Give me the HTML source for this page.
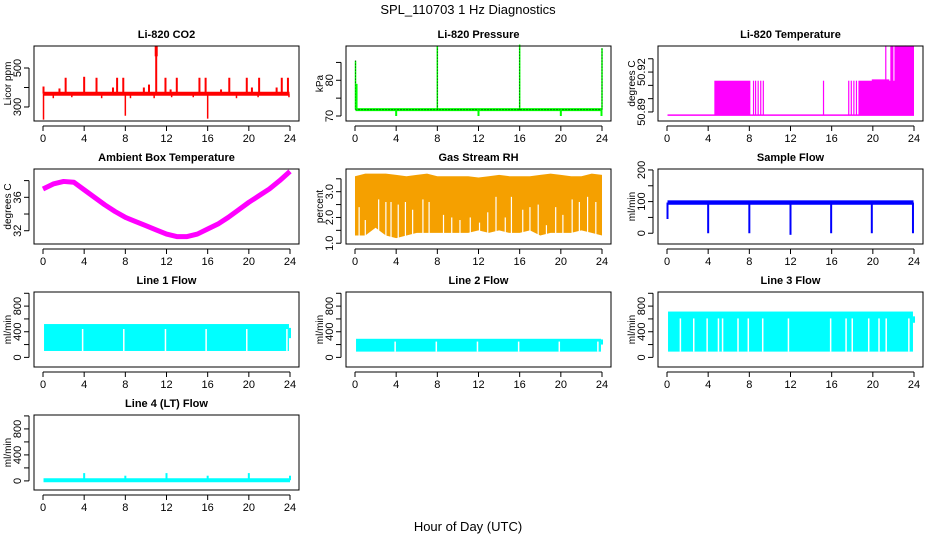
<!DOCTYPE html>
<html><head><meta charset="utf-8"><title>SPL_110703 1 Hz Diagnostics</title>
<style>
html,body{margin:0;padding:0;background:#fff;}
svg{display:block;font-family:"Liberation Sans",Arial,sans-serif;}
</style></head>
<body>
<svg id="chart" width="936" height="540" viewBox="0 0 936 540" xmlns="http://www.w3.org/2000/svg">
<text x="468" y="14" font-size="13" text-anchor="middle">SPL_110703  1 Hz Diagnostics</text>
<text x="468" y="531" font-size="13" text-anchor="middle">Hour of Day (UTC)</text>
</svg>
<script>
// ---- data ----
const xTicks = [0,4,8,12,16,20,24];
// CO2
const co2Base = 368;
const co2SpikeHours = [0.05,1.6,2.2,4.0,5.2,6.8,7.2,7.8,9.8,10.3,11.0,11.9,12.4,13.0,15.2,15.8,17.3,18.1,19.8,20.3,21.0,22.7,23.2,23.8];
const co2SpikeValues = [405,395,450,455,450,400,450,450,400,415,615,450,390,450,450,450,390,450,450,400,450,400,450,450];
const co2DipHours = [0.05,1.0,2.8,5.7,8.0,8.5,10.8,12.5,14.6,16.0,18.8,20.9,23.9];
const co2DipValues = [235,345,350,345,255,345,345,350,350,240,345,350,350];
// Pressure
const presBase = 71.8;
const presSpikeHours = [0.05,8.0,16.0,24.0];
const presSpikeValues = [85.5,89.5,90.0,89.0];
const presDipHours = [4.0,12.0,20.0,23.95];
const presDipValues = [70.0,70.0,70.0,70.0];
// Li-820 temperature blocks
const tempBase = 50.8876;
const tempBlockStart = [4.6,8.35,8.55,8.8,9.05,9.3,15.15,17.6,17.85,18.1,18.35,18.6,19.9,21.2,21.7,22.1,23.1];
const tempBlockEnd   = [8.1,8.4,8.6,8.85,9.1,9.35,15.2,17.65,17.95,18.2,18.45,24.0,21.6,21.25,22.0,24.0,23.15];
const tempBlockLevel = [50.9135,50.9135,50.9135,50.9135,50.9135,50.9135,50.9135,50.9135,50.9135,50.9135,50.9135,50.9135,50.9145,50.940,50.940,50.940,50.940];
// Ambient box temperature (hourly)
const ambHours = [0,1,2,3,4,5,6,7,8,9,10,11,12,13,14,15,16,17,18,19,20,21,22,23,24];
const ambValues = [37.0,37.6,37.9,37.8,36.9,36.0,35.1,34.3,33.6,33.1,32.6,32.1,31.6,31.3,31.3,31.6,32.2,32.8,33.6,34.5,35.4,36.2,37.0,38.0,39.1];
// Gas stream RH (hourly envelope)
const rhHours = [0,1,2,3,4,5,6,7,8,9,10,11,12,13,14,15,16,17,18,19,20,21,22,23,24];
const rhTop = [3.6,3.7,3.7,3.7,3.65,3.6,3.65,3.7,3.6,3.6,3.6,3.6,3.55,3.6,3.65,3.6,3.6,3.6,3.65,3.7,3.65,3.6,3.6,3.7,3.65];
const rhBottom = [1.3,1.3,1.6,1.3,1.2,1.3,1.4,1.4,1.4,1.4,1.4,1.4,1.5,1.4,1.5,1.4,1.4,1.5,1.3,1.4,1.4,1.4,1.5,1.4,1.3];
const rhGapHours = [0.4,1.0,2.3,3.0,3.5,4.2,4.9,5.6,6.6,7.2,8.6,9.4,10.2,11.2,12.1,12.9,13.7,14.6,15.2,16.3,17.0,17.8,18.6,19.5,20.2,21.1,21.8,22.6,23.4];
const rhGapTops = [2.4,1.9,2.7,2.6,2.6,2.5,2.6,2.3,2.7,2.6,2.1,2.0,1.9,2.0,1.8,2.2,2.8,2.0,2.8,2.3,2.4,2.5,1.7,2.4,2.1,2.7,2.6,2.8,2.6];
// Sample flow
const sfBase = 97;
const sfDipHours = [0.05,4.0,8.0,12.0,15.95,19.9,23.9];
const sfDipValues = [45,0,0,-5,0,0,0];
// Line flows
const l1Low = 100, l1High = 520;
const l1GapHours = [3.85,7.85,11.9,15.85,19.8,23.7];
const l2Low = 90, l2High = 290;
const l2GapHours = [3.9,7.9,11.9,15.9,19.85,23.6];
const l3Low = 90, l3High = 715;
const l3GapHours = [1.3,2.6,3.9,5.0,5.4,6.9,7.9,9.3,11.8,15.9,17.4,18.0,19.6,20.6,21.3,23.5];
const l4Base = 10;
const l4SpikeHours = [4.0,8.0,12.0,16.0,20.0,24.0];
const l4SpikeValues = [120,80,120,80,120,80];

// ---- layout ----
const NS = "http://www.w3.org/2000/svg";
const svg = document.getElementById('chart');
const colLeft = [34,346,658], colRight=[299,611,923];
const rowTop = [46,169,292,415], boxH = 75;
function el(tag, attrs, parent){
  const e = document.createElementNS(NS, tag);
  for (const k in attrs) e.setAttribute(k, attrs[k]);
  (parent||svg).appendChild(e);
  return e;
}
function panel(name, col, row, title, ylab, lo, hi, yTicks, yLabels){
  const g = el('g', {});
  
  
  const L = colLeft[col], R = colRight[col], T = rowTop[row], B = T + boxH;
  const x0 = L + 9, x24 = R - 9;
  const X = h => x0 + h * (x24 - x0) / 24;
  const Y = v => B - (v - lo) / (hi - lo) * boxH;
  const t = el('text', {x:(L+R)/2, y:T-8, 'font-size':11, 'font-weight':'bold', 'text-anchor':'middle'}, g);
  t.textContent = title;
  
  
  const marks = el('g', {}, g);
  
  
  const box = el('rect', {x:L, y:T, width:R-L, height:boxH, fill:'none', stroke:'#000', 'stroke-width':1}, g);
  
  
  const xa = el('g', {}, g);
  
  
  el('line', {x1:X(xTicks[0]), x2:X(xTicks[xTicks.length-1]), y1:B+5, y2:B+5, stroke:'#000'}, xa);
  xTicks.forEach(v => {
    el('line', {x1:X(v), x2:X(v), y1:B+5, y2:B+10, stroke:'#000'}, xa);
    const tx = el('text', {x:X(v), y:B+21, 'font-size':11, 'text-anchor':'middle'}, xa);
    tx.textContent = v;
  });
  const ya = el('g', {}, g);
  
  
  el('line', {x1:L-5, x2:L-5, y1:Y(yTicks[0]), y2:Y(yTicks[yTicks.length-1]), stroke:'#000'}, ya);
  yTicks.forEach((v,i) => {
    el('line', {x1:L-10, x2:L-5, y1:Y(v), y2:Y(v), stroke:'#000'}, ya);
    if (yLabels[i] !== '') {
      const tx = el('text', {x:0, y:0, 'font-size':11, 'text-anchor':'middle', transform:`translate(${L-13},${Y(v)}) rotate(-90)`}, ya);
      tx.textContent = yLabels[i];
    }
  });
  const yl = el('text', {x:0, y:0, 'font-size':10, 'text-anchor':'middle', transform:`translate(${L-23},${(T+B)/2}) rotate(-90)`}, ya);
  yl.textContent = ylab;
  
  
  return {X, Y, g: marks, L, R, T, B};
}
function vline(p, h, a, b, color, w){
  return el('line', {x1:p.X(h), x2:p.X(h), y1:p.Y(a), y2:p.Y(b), stroke:color, 'stroke-width':w||1.5}, p.g);
}
function hline(p, a, b, v, color, w, dash){
  const at = {x1:p.X(a), x2:p.X(b), y1:p.Y(v), y2:p.Y(v), stroke:color, 'stroke-width':w};
  if (dash) at['stroke-dasharray'] = dash;
  return el('line', at, p.g);
}

// CO2
let p = panel('co2', 0, 0, 'Li-820 CO2', 'Licor ppm', 228, 613, [300,400,500], ['300','','500']);
hline(p, 0.05, 23.95, co2Base, '#ff0000', 4);
co2SpikeHours.forEach((h,i) => vline(p, h, co2Base, co2SpikeValues[i], '#ff0000', 2));
co2DipHours.forEach((h,i) => vline(p, h, co2Base, co2DipValues[i], '#ff0000', 1.5));
vline(p, 11.0, 560, 615, '#ff0000', 3);

// Pressure
p = panel('pressure', 1, 0, 'Li-820 Pressure', 'kPa', 68.6, 89.6, [70,75,80,85], ['70','','80','']);
hline(p, 0.05, 23.95, presBase, '#00ff00', 3);
hline(p, 0.05, 23.95, presBase, '#000', 1, '1,2');
presSpikeHours.forEach((h,i) => { vline(p, h, presBase, presSpikeValues[i], '#00ff00', 1.5); vline(p, h, presBase, presSpikeValues[i], '#000', 0.8).setAttribute('stroke-dasharray','1,2'); });
vline(p, 0.15, presBase, 79, '#00ff00', 2);
presDipHours.forEach((h,i) => vline(p, h, presBase, presDipValues[i], '#00ff00', 2));

// Li-820 temperature
p = panel('li820-temperature', 2, 0, 'Li-820 Temperature', 'degrees C', 50.8832, 50.9396, [50.89,50.90,50.91,50.92,50.93], ['50.89','','','50.92','']);
hline(p, 0.05, 24, tempBase, '#ff00ff', 1.5);
tempBlockStart.forEach((s,i) => {
  const x1 = p.X(s), x2 = Math.max(p.X(tempBlockEnd[i]), x1 + 1.2);
  const r = el('rect', {x:x1, y:p.Y(tempBlockLevel[i]), width:x2-x1, height:p.Y(tempBase)-p.Y(tempBlockLevel[i]), fill:'#ff00ff'}, p.g);
  
  
});

// Ambient
p = panel('ambient-box-temperature', 0, 1, 'Ambient Box Temperature', 'degrees C', 30.41, 39.39, [32,34,36,38], ['32','','36','']);
let pts = ambHours.map((h,i) => p.X(h) + ',' + p.Y(ambValues[i])).join(' ');
el('polyline', {points:pts, fill:'none', stroke:'#ff00ff', 'stroke-width':5, 'stroke-linejoin':'round'}, p.g);

// RH
p = panel('gas-stream-rh', 1, 1, 'Gas Stream RH', 'percent', 0.97, 3.88, [1.0,1.5,2.0,2.5,3.0,3.5], ['1.0','','2.0','','3.0','']);
pts = rhHours.map((h,i) => p.X(h) + ',' + p.Y(rhTop[i])).concat(rhHours.slice().reverse().map((h,j) => p.X(h) + ',' + p.Y(rhBottom[rhHours.length-1-j]))).join(' ');
el('polygon', {points:pts, fill:'#f5a000'}, p.g);
rhGapHours.forEach((h,i) => vline(p, h, 1.0, rhGapTops[i], '#fff', 1.2));

// Sample flow
p = panel('sample-flow', 2, 1, 'Sample Flow', 'ml/min', -34, 203, [0,50,100,150,200], ['0','','100','','200']);
el('rect', {x:p.X(0.05), y:p.Y(sfBase+7), width:p.X(23.95)-p.X(0.05), height:p.Y(sfBase-7)-p.Y(sfBase+7), fill:'#0000ff'}, p.g);
sfDipHours.forEach((h,i) => vline(p, h, sfBase, sfDipValues[i], '#0000ff', 2));

// Line flows
const flowTicks = [0,200,400,600,800,1000], flowLabels = ['0','','400','','800',''];
function flowPanel(name, col, row, title, low, high, gaps){
  const q = panel(name, col, row, title, 'ml/min', -150, 1020, flowTicks, flowLabels);
  const r = el('rect', {x:q.X(0.1), y:q.Y(high), width:q.X(23.9)-q.X(0.1), height:q.Y(low)-q.Y(high), fill:'#00ffff'}, q.g);
  
  
  gaps.forEach(h => vline(q, h, low, high*0.85, '#fff', 1.5));
  return q;
}
p = flowPanel('line-1-flow', 0, 2, 'Line 1 Flow', l1Low, l1High, l1GapHours);
vline(p, 24, 300, 460, '#00ffff', 2);
p = flowPanel('line-2-flow', 1, 2, 'Line 2 Flow', l2Low, l2High, l2GapHours);
vline(p, 24, 200, 280, '#00ffff', 2);
p = flowPanel('line-3-flow', 2, 2, 'Line 3 Flow', l3Low, l3High, l3GapHours);
vline(p, 24, 540, 640, '#00ffff', 2);
p = panel('line-4-flow', 0, 3, 'Line 4 (LT) Flow', 'ml/min', -140, 1014, flowTicks, flowLabels);
hline(p, 0.05, 24, l4Base, '#00ffff', 4);
l4SpikeHours.forEach((h,i) => vline(p, h, l4Base, l4SpikeValues[i], '#00ffff', 2));
</script>
</body></html>
